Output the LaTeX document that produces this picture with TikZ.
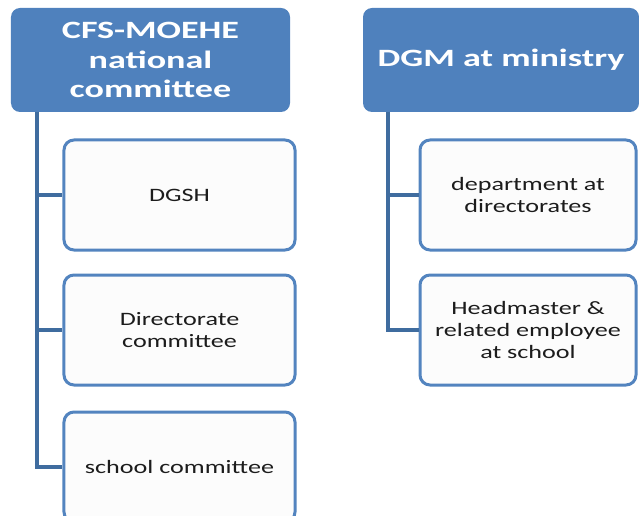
\documentclass[tikz,border=0pt]{standalone}
\usepackage{fontspec}
\newfontfamily\hdfont{Carlito}[FakeStretch=1.45]
\newfontfamily\bdfont{Carlito}[FakeStretch=1.38]
\definecolor{hdblue}{HTML}{4F81BD}
\definecolor{bdline}{HTML}{5384BF}
\definecolor{conn}{HTML}{3F6C9F}
\definecolor{txt}{HTML}{1C1C1C}
\definecolor{boxfill}{HTML}{FCFCFC}
\begin{document}
\begin{tikzpicture}[x=1bp,y=-1bp,
  header/.style={draw=none, fill=hdblue, rounded corners=9bp, inner sep=0pt,
    text=white, align=center, font=\hdfont\bfseries\fontsize{25}{30}\selectfont},
  child/.style={draw=bdline, line width=3bp, fill=boxfill, rounded corners=10bp,
    inner sep=0pt, text=txt, align=center, font=\bdfont\fontsize{19}{22}\selectfont},
  conn/.style={draw=conn, line width=3.5bp}]
\useasboundingbox (0,0) rectangle (639,516);
\clip (0,0) rectangle (639,516);
% headers
\node[header, minimum width=279bp, minimum height=104bp] (h1) at (150.5,60) {CFS-MOEHE\\national\\committee};
\node[header, minimum width=276bp, minimum height=104bp] (h2) at (501,60) {DGM at ministry};
% left children
\node[child, minimum width=231bp, minimum height=110bp] (l1) at (179.5,195) {DGSH};
\node[child, minimum width=231bp, minimum height=110bp] (l2) at (179.5,330) {Directorate\\committee};
\node[child, minimum width=231bp, minimum height=110bp] (l3) at (179.5,467) {school committee};
% right children
\node[child, minimum width=216bp, minimum height=110bp] (r1) at (528,195) {department at\\directorates};
\node[child, minimum width=216bp, minimum height=110bp] (r2) at (528,330) {Headmaster \&\\related employee\\at school};
% connectors
\coordinate (lt) at (37,112);
\coordinate (rt) at (388,112);
\draw[conn] (lt) |- (l1.west);
\draw[conn] (lt) |- (l2.west);
\draw[conn] (lt) |- (l3.west);
\draw[conn] (rt) |- (r1.west);
\draw[conn] (rt) |- (r2.west);
\end{tikzpicture}
\end{document}
